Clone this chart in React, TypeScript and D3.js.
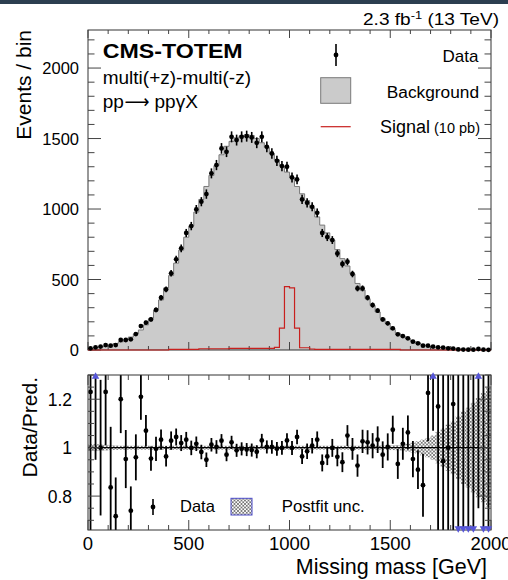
import React from 'react';
import * as d3 from 'd3';

// ---------- data (80 bins of 25 GeV from 0 to 2000) ----------
const binLow: number[] = d3.range(0, 2000, 25);
const binWidth = 25;

const dataCounts: number[] = [
  12, 19, 24, 35, 31, 35, 71, 71, 76, 113,
  170, 194, 217, 284, 371, 430, 544, 643, 721, 830,
  879, 997, 1052, 1106, 1253, 1312, 1430, 1406, 1512, 1489,
  1512, 1517, 1508, 1470, 1512, 1441, 1394, 1342, 1305, 1300,
  1224, 1210, 1068, 1044, 1016, 973, 830, 801, 780, 685,
  610, 626, 539, 437, 437, 371, 319, 279, 217, 189,
  154, 111, 99, 83, 59, 47, 31, 31, 24, 19,
  17, 12, 10, 4, 3, 2, 2, 7, 2, 1,
];

const background: number[] = [
  10, 14, 20, 27, 36, 46, 58, 74, 92, 114,
  142, 178, 224, 282, 355, 440, 528, 616, 708, 800,
  880, 978, 1068, 1160, 1238, 1308, 1385, 1445, 1480, 1505,
  1520, 1527, 1522, 1500, 1470, 1437, 1392, 1349, 1306, 1262,
  1222, 1160, 1108, 1060, 1008, 944, 886, 831, 780, 712,
  648, 596, 540, 472, 425, 364, 316, 270, 224, 188,
  145, 119, 97, 79, 62, 52, 37, 27, 19, 16,
  18, 12, 9, 8, 7, 6, 5, 4, 4, 3,
];

const signal: number[] = [
  0, 0, 0, 0, 0, 0, 0, 0, 0, 0,
  0, 0, 0, 0, 0, 0, 5, 5, 5, 5,
  5, 5, 9, 9, 9, 9, 9, 9, 12, 12,
  12, 12, 12, 12, 12, 12, 12, 18, 155, 450,
  440, 155, 16, 16, 7, 5, 5, 5, 5, 5,
  5, 5, 5, 5, 5, 5, 5, 5, 5, 5,
  5, 5, 0, 0, 0, 0, 0, 0, 0, 0,
  0, 0, 0, 0, 0, 0, 0, 0, 0, 0,
];

const ratio: number[] = [
  1.23, 1.45, 1.0, 1.23, 0.836, 0.717, 1.2, 0.953, 0.74, 0.96,
  1.21, 1.07, 0.955, 0.995, 1.033, 0.964, 1.029, 1.044, 1.019, 1.033,
  0.999, 1.016, 0.982, 0.95, 1.012, 1.003, 1.029, 0.971, 1.022, 0.989,
  0.995, 0.992, 0.99, 0.983, 1.03, 1.003, 1.003, 0.995, 0.999, 1.03,
  0.999, 1.044, 0.964, 0.985, 1.008, 1.033, 0.937, 0.964, 0.999, 0.962,
  0.94, 1.05, 0.995, 0.926, 1.026, 1.022, 1.008, 1.033, 0.971, 1.003,
  1.074, 0.933, 1.016, 1.063, 0.953, 0.909, 0.845, 1.226, 1.4, 1.17,
  0.944, 1.0, 1.18, 0.5, 0.43, 0.33, 0.4, 1.75, 0.5, 0.33,
];

const ratioErr: number[] = [
  0.7, 0.5, 0.28, 0.22, 0.25, 0.16, 0.14, 0.12, 0.1, 0.095,
  0.095, 0.065, 0.05, 0.05, 0.042, 0.042, 0.038, 0.035, 0.033, 0.032,
  0.03, 0.03, 0.03, 0.03, 0.028, 0.028, 0.027, 0.027, 0.027, 0.027,
  0.027, 0.027, 0.027, 0.027, 0.027, 0.027, 0.028, 0.028, 0.028, 0.029,
  0.029, 0.03, 0.031, 0.032, 0.032, 0.034, 0.035, 0.036, 0.037, 0.039,
  0.041, 0.043, 0.045, 0.046, 0.048, 0.05, 0.052, 0.055, 0.055, 0.056,
  0.058, 0.062, 0.066, 0.07, 0.075, 0.08, 0.13, 0.2, 0.33, 0.6,
  0.6, 0.7, 0.7, 0.9, 0.9, 1.0, 1.0, 1.0, 1.0, 1.0,
];

const postfitUnc: number[] = [
  0.014, 0.014, 0.013, 0.012, 0.01, 0.009, 0.008, 0.008, 0.008, 0.008,
  0.008, 0.008, 0.008, 0.008, 0.008, 0.008, 0.008, 0.008, 0.008, 0.008,
  0.008, 0.008, 0.008, 0.008, 0.008, 0.008, 0.008, 0.008, 0.008, 0.008,
  0.008, 0.008, 0.008, 0.008, 0.008, 0.008, 0.008, 0.008, 0.008, 0.008,
  0.008, 0.008, 0.008, 0.008, 0.008, 0.008, 0.008, 0.008, 0.008, 0.008,
  0.008, 0.008, 0.008, 0.008, 0.008, 0.008, 0.008, 0.008, 0.009, 0.009,
  0.01, 0.011, 0.012, 0.016, 0.02, 0.026, 0.033, 0.04, 0.05, 0.065,
  0.08, 0.095, 0.11, 0.13, 0.15, 0.165, 0.185, 0.205, 0.225, 0.245,
];

const xTickLabels: number[] = [0, 500, 1000, 1500, 2000];
const yTickLabels: number[] = [0, 500, 1000, 1500, 2000];
const rTickLabels: number[] = [0.8, 1, 1.2];

// ---------- layout ----------
const W = 508;
const H = 580;
const X0 = 88;
const X1 = 491;
const UT = 30;
const UB = 350;
const LT = 375;
const LB = 530;
const FONT = '"Liberation Sans", Arial, Helvetica, sans-serif';

const x = d3.scaleLinear().domain([0, 2000]).range([X0, X1]);
const yU = d3.scaleLinear().domain([0, 2270]).range([UB, UT]);
const yL = d3.scaleLinear().domain([0.66, 1.3]).range([LB, LT]);

type Pt = { e: number; v: number };
const stepPts = (vals: number[]): Pt[] => {
  const pts = binLow.map((lo, i) => ({ e: lo, v: vals[i] }));
  pts.push({ e: 2000, v: vals[vals.length - 1] });
  return pts;
};

const bgArea = d3
  .area<Pt>()
  .x((d) => x(d.e))
  .y0(yU(0))
  .y1((d) => yU(d.v))
  .curve(d3.curveStepAfter);

const stepLineU = d3
  .line<Pt>()
  .x((d) => x(d.e))
  .y((d) => yU(d.v))
  .curve(d3.curveStepAfter);

const outlinePath = (vals: number[]) => {
  const p = stepPts(vals);
  const inner = stepLineU(p) || '';
  return `M${x(0)},${yU(0)}L${inner.slice(1)}L${x(2000)},${yU(0)}`;
};

const triUp = d3.symbol().type(d3.symbolTriangle).size(24)() || '';

export default function App() {
  const minorX = d3.range(0, 2001, 100);
  const minorYU = d3.range(0, 2271, 100);
  const minorYL = d3.range(0.7, 1.301, 0.05);
  const majorYL = [0.8, 1.0, 1.2];
  const mid = (i: number) => x(binLow[i] + binWidth / 2);

  return (
    <svg
      width={W}
      height={H}
      viewBox={`0 0 ${W} ${H}`}
      style={{ position: 'absolute', left: 0, top: 0, background: '#fff' }}
      fontFamily={FONT}
    >
      <defs>
        <pattern id="hatch" width="3.5" height="3.5" patternUnits="userSpaceOnUse">
          <path d="M0,0L3.5,3.5M3.5,0L0,3.5" stroke="#5e5e5e" strokeWidth="0.75" fill="none" />
        </pattern>
        <clipPath id="clipL">
          <rect x={X0} y={LT} width={X1 - X0} height={LB - LT} />
        </clipPath>
        <clipPath id="clipU">
          <rect x={X0} y={UT} width={X1 - X0} height={UB - UT + 1} />
        </clipPath>
      </defs>
      <rect x={0} y={0} width={W} height={H} fill="#fff" />
      <rect x={0} y={0} width={W} height={4} fill="#2c3e50" />

      {/* ---------------- upper panel ---------------- */}
      <g clipPath="url(#clipU)">
        <path d={bgArea(stepPts(background)) || ''} fill="#cbcbcb" />
        <path d={outlinePath(background)} fill="none" stroke="#7a7a7a" strokeWidth={1} />
      </g>

      {/* frame */}
      <rect x={X0} y={UT} width={X1 - X0} height={UB - UT} fill="none" stroke="#333" strokeWidth={1} />
      {minorX.map((v) => {
        const len = v % 500 === 0 ? 8 : 4;
        return (
          <g key={'ux' + v}>
            <line x1={x(v)} x2={x(v)} y1={UB} y2={UB - len} stroke="#444" />
            <line x1={x(v)} x2={x(v)} y1={UT} y2={UT + len} stroke="#444" />
          </g>
        );
      })}
      {minorYU.map((v) => {
        const len = v % 500 === 0 ? 13 : 6.5;
        return (
          <g key={'uy' + v}>
            <line x1={X0} x2={X0 + len} y1={yU(v)} y2={yU(v)} stroke="#444" />
            <line x1={X1} x2={X1 - len} y1={yU(v)} y2={yU(v)} stroke="#444" />
          </g>
        );
      })}
      {yTickLabels.map((v) => (
        <text key={'uyl' + v} x={79} y={yU(v) + 6} textAnchor="end" fontSize={16.5} fill="#000">
          {v}
        </text>
      ))}

      {/* signal */}
      <path d={outlinePath(signal)} fill="none" stroke="#c8201e" strokeWidth={1.2} />

      {/* data points */}
      {dataCounts.map((d, i) => {
        const e = Math.sqrt(d);
        return (
          <g key={'dp' + i}>
            <line x1={mid(i)} x2={mid(i)} y1={yU(d + e)} y2={yU(Math.max(0, d - e))} stroke="#000" strokeWidth={1.6} />
            <circle cx={mid(i)} cy={yU(d)} r={2.4} fill="#000" />
          </g>
        );
      })}

      {/* texts upper */}
      <text x={102.7} y={58.3} fontSize={20} fontWeight="bold" textLength={140} lengthAdjust="spacingAndGlyphs">
        CMS-TOTEM
      </text>
      <text x={102.7} y={84.3} fontSize={19}>
        multi(+z)-multi(-z)
      </text>
      <text x={102.7} y={107.5} fontSize={19}>
        pp
      </text>
      <text
        x={124.5}
        y={107.5}
        fontSize={19}
        fontFamily='"DejaVu Sans", sans-serif'
        textLength={25}
        lengthAdjust="spacingAndGlyphs"
      >
        ⟶
      </text>
      <text x={154.5} y={107.5} fontSize={19}>
        ppγX
      </text>
      <text x={499} y={25} fontSize={17} textAnchor="end" textLength={136} lengthAdjust="spacingAndGlyphs">
        2.3 fb<tspan dy={-6.5} fontSize={11.5}>-1</tspan>
        <tspan dy={6.5}> (13 TeV)</tspan>
      </text>

      {/* legend upper */}
      <line x1={336} x2={336} y1={44} y2={66} stroke="#000" strokeWidth={1.6} />
      <circle cx={336} cy={55} r={2.4} fill="#000" />
      <text x={478.5} y={62.3} fontSize={17} textAnchor="end">
        Data
      </text>
      <rect x={320.7} y={77.7} width={30} height={25.6} fill="#cbcbcb" stroke="#7a7a7a" strokeWidth={1} />
      <text x={479} y={97.7} fontSize={17.3} textAnchor="end">
        Background
      </text>
      <line x1={320.7} x2={350.7} y1={126.7} y2={126.7} stroke="#c8201e" strokeWidth={1.2} />
      <text x={480} y={133.3} fontSize={18} textAnchor="end">
        Signal<tspan fontSize={14.5}> (10 pb)</tspan>
      </text>

      <text transform="translate(31,30) rotate(-90)" fontSize={21} textAnchor="end">
        Events / bin
      </text>

      {/* ---------------- lower panel ---------------- */}
      <g clipPath="url(#clipL)">
        {postfitUnc.map((u, i) => (
          <rect
            key={'band' + i}
            x={x(binLow[i])}
            width={x(binLow[i] + binWidth) - x(binLow[i]) + 0.2}
            y={yL(1 + u)}
            height={yL(1 - u) - yL(1 + u)}
            fill="url(#hatch)"
          />
        ))}
        <line x1={X0} x2={X1} y1={yL(1)} y2={yL(1)} stroke="#000" strokeWidth={1.3} />
        {ratio.map((r, i) => (
          <g key={'rp' + i}>
            <line
              x1={mid(i)}
              x2={mid(i)}
              y1={yL(r + ratioErr[i])}
              y2={yL(r - ratioErr[i])}
              stroke="#000"
              strokeWidth={1.8}
            />
            <circle cx={mid(i)} cy={yL(r)} r={2.4} fill="#000" />
          </g>
        ))}
      </g>

      <rect x={X0} y={LT} width={X1 - X0} height={LB - LT} fill="none" stroke="#333" strokeWidth={1} />
      {minorX.map((v) => {
        const len = v % 500 === 0 ? 10 : 5;
        return (
          <g key={'lx' + v}>
            <line x1={x(v)} x2={x(v)} y1={LB} y2={LB - len} stroke="#444" />
            <line x1={x(v)} x2={x(v)} y1={LT} y2={LT + len} stroke="#444" />
          </g>
        );
      })}
      {minorYL.map((v) => {
        const isMajor = majorYL.some((m) => Math.abs(m - v) < 1e-6);
        const len = isMajor ? 12 : 6;
        return (
          <g key={'ly' + v.toFixed(2)}>
            <line x1={X0} x2={X0 + len} y1={yL(v)} y2={yL(v)} stroke="#444" />
            <line x1={X1} x2={X1 - len} y1={yL(v)} y2={yL(v)} stroke="#444" />
          </g>
        );
      })}
      {ratio.map((r, i) =>
        r > 1.3 ? (
          <path key={'tu' + i} d={triUp} transform={`translate(${mid(i)},${LT + 1.5})`} fill="#5656d8" />
        ) : r < 0.66 ? (
          <path key={'td' + i} d={triUp} transform={`translate(${mid(i)},${LB - 1.5}) rotate(180)`} fill="#5656d8" />
        ) : null
      )}
      {rTickLabels.map((v) => (
        <text key={'ryl' + v} x={72} y={yL(v) + 6.5} textAnchor="end" fontSize={17.5}>
          {v}
        </text>
      ))}
      {xTickLabels.map((v) => (
        <text key={'xl' + v} x={x(v)} y={549.5} textAnchor="middle" fontSize={18.5}>
          {v}
        </text>
      ))}

      {/* legend lower */}
      <line x1={153} x2={153} y1={499} y2={515} stroke="#000" strokeWidth={1.6} />
      <circle cx={153} cy={507} r={2.4} fill="#000" />
      <text x={180} y={512} fontSize={16.5}>
        Data
      </text>
      <rect x={231} y={498.3} width={21} height={16.7} fill="url(#hatch)" stroke="#4a4ac8" strokeWidth={1} />
      <text x={281.7} y={512} fontSize={16.8}>
        Postfit unc.
      </text>

      <text transform="translate(37,377) rotate(-90)" fontSize={21} textAnchor="end">
        Data/Pred.
      </text>
      <text x={487} y={574} fontSize={21.5} textAnchor="end">
        Missing mass [GeV]
      </text>
    </svg>
  );
}
